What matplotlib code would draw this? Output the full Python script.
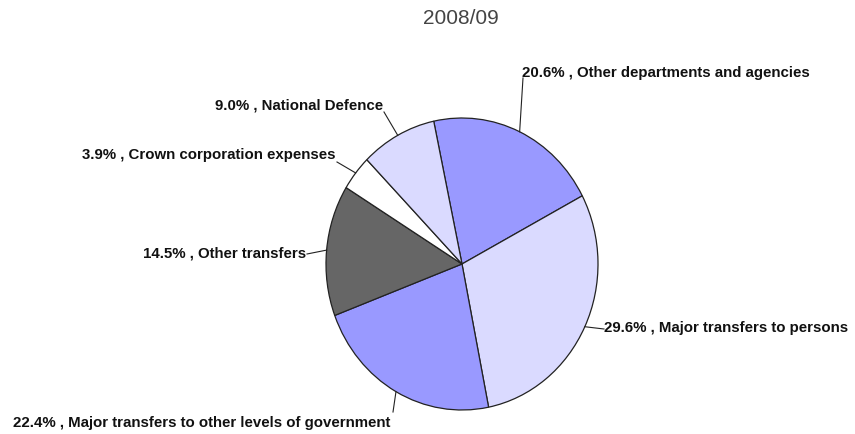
import numpy as np
import matplotlib
matplotlib.use("Agg")
import matplotlib.pyplot as plt

title = "2008/09"
categories = ["Other departments and agencies", "Major transfers to persons",
              "Major transfers to other levels of government", "Other transfers",
              "Crown corporation expenses", "National Defence"]
values = [20.6, 29.6, 22.4, 14.5, 3.9, 9.0]
colors = ["#9999FF", "#DADAFF", "#9999FF", "#666666", "#FFFFFF", "#DADAFF"]

W, H = 855, 434
fig = plt.figure(figsize=(W / 100, H / 100), dpi=100)
ax = fig.add_axes([0, 0, 1, 1])

# pixel geometry of pie
cx, cy = 462, 264
rx, ry = 136, 146

wedges, _ = ax.pie(values, colors=colors, startangle=102, counterclock=False,
                   radius=1, center=(0, 0),
                   wedgeprops=dict(edgecolor="#222222", linewidth=0.9))
ax.set_aspect("auto")
ax.set_xlim(-cx / rx, (W - cx) / rx)
ax.set_ylim(-(H - cy) / ry, cy / ry)
ax.axis("off")

def px(x, y):
    return ((x - cx) / rx, (cy - y) / ry)

# label placements (pixel coords of text anchor, alignment) and leader start
label_pos = [
    (522, 73, "left"),
    (604, 328, "left"),
    (390, 423, "right"),
    (306, 254, "right"),
    (335, 155, "right"),
    (383, 106, "right"),
]
line_start = [
    (523, 78), (604, 329), (393, 412), (307, 254), (337, 162), (384, 112)
]
for w, cat, v, (tx, ty, ha), (lx, ly) in zip(wedges, categories, values, label_pos, line_start):
    a = np.deg2rad((w.theta1 + w.theta2) / 2)
    ex, ey = np.cos(a), np.sin(a)
    ax.text(*px(tx, ty), f"{v:.1f}% , {cat}", ha=ha, va="center",
            fontsize=10.8, fontweight="bold", family=["Liberation Sans", "DejaVu Sans"],
            color="#111111")
    ax.plot([px(lx, ly)[0], ex], [px(lx, ly)[1], ey], color="#222222", lw=0.8)

fig.text(461 / W, 1 - 19 / H, title, ha="center", va="center", fontsize=15,
         family=["Liberation Sans", "DejaVu Sans"], color="#444444")

fig.savefig("out.png", dpi=100)
